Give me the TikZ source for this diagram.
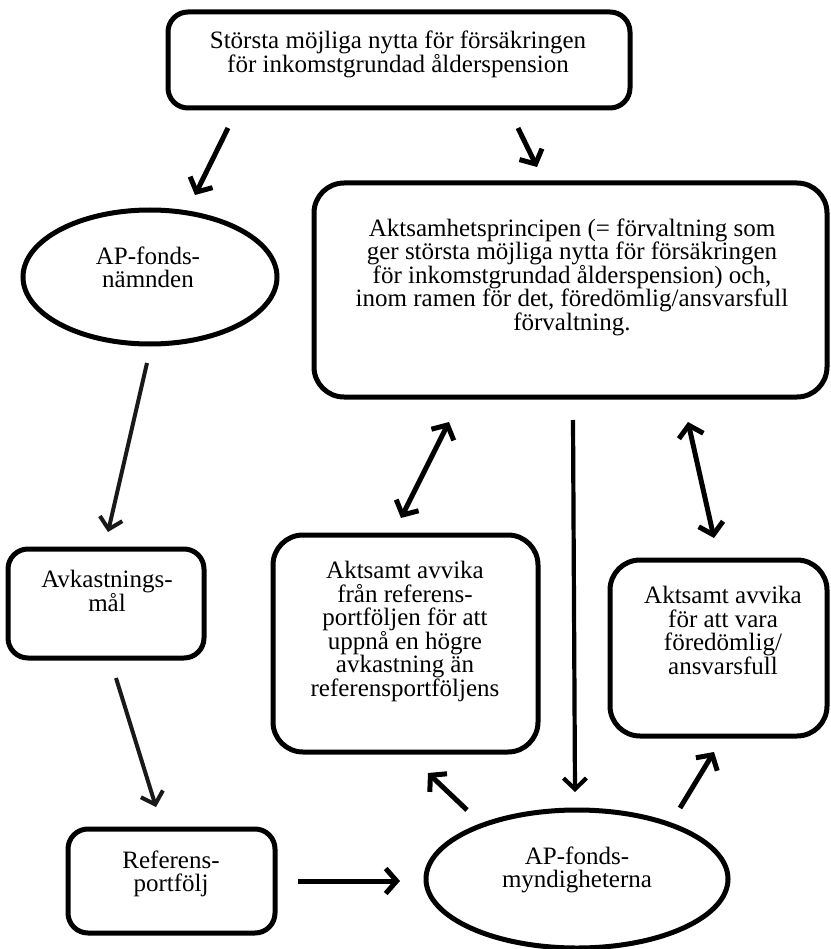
\documentclass[tikz,border=0pt]{standalone}
\usepackage{fontspec}
\setmainfont{Liberation Serif}
\usetikzlibrary{arrows.meta,shapes.geometric}
\begin{document}
\begin{tikzpicture}[x=1pt,y=-1pt,
  rbox/.style={draw=black, line width=5pt, rounded corners=20pt, inner sep=0pt, fill=white},
  ell/.style={draw=black, line width=5pt, ellipse, inner sep=0pt},
  txt/.style={align=center, inner sep=0pt, anchor=north, font=\fontsize{25}{23.5}\selectfont},
  arr/.style={line width=5pt, -{Straight Barb[length=11pt,width=25pt]}},
  thinarr/.style={line width=4pt, color=black!90, -{Straight Barb[length=11pt,width=23pt]}},
  darr/.style={line width=5pt, {Straight Barb[length=11pt,width=25pt]}-{Straight Barb[length=11pt,width=25pt]}}]
\path[use as bounding box, fill=white] (0,0) rectangle (830,949);

% shapes
\node[rbox, minimum width=462pt, minimum height=96pt] (top) at (399,60) {};
\node[txt] (topT) at (398,31.2) {Största möjliga nytta för försäkringen\\för inkomstgrundad ålderspension};

\node[rbox, rounded corners=30pt, minimum width=513pt, minimum height=214pt] (akt) at (570.5,290) {};
\node[txt] (aktT) at (572,218.2) {Aktsamhetsprincipen (= förvaltning som\\ger största möjliga nytta för försäkringen\\för inkomstgrundad ålderspension) och,\\inom ramen för det, föredömlig/ansvarsfull\\förvaltning.};

\node[ell, minimum width=254pt, minimum height=134pt] (nmd) at (150,277) {};
\node[txt] (nmdT) at (148,246.2) {AP-fonds-\\nämnden};

\node[rbox, minimum width=196pt, minimum height=109pt] (avk) at (106,603.5) {};
\node[txt] (avkT) at (107,570.2) {Avkastnings-\\mål};

\node[rbox, minimum width=207pt, minimum height=104pt] (ref) at (171.5,881) {};
\node[txt] (refT) at (171,850.2) {Referens-\\portfölj};

\node[rbox, rounded corners=30pt, minimum width=265pt, minimum height=217pt] (mid) at (405.5,643.5) {};
\node[txt] (midT) at (405,561.2) {Aktsamt avvika\\från referens-\\portföljen för att\\uppnå en högre\\avkastning än\\referensportföljens};

\node[rbox, rounded corners=30pt, minimum width=217pt, minimum height=176pt] (rgt) at (718.5,648) {};
\node[txt] (rgtT) at (723,586.2) {Aktsamt avvika\\för att vara\\föredömlig/\\ansvarsfull};

\node[ell, minimum width=302pt, minimum height=138pt] (myn) at (577,879) {};
\node[txt] (mynT) at (577,846.2) {AP-fonds-\\myndigheterna};

% connector end points
\coordinate (a1s) at (228,128); \coordinate (a1e) at (195,195);
\coordinate (a2s) at (518,128); \coordinate (a2e) at (537,167);
\coordinate (a3s) at (147,363); \coordinate (a3e) at (108,532);
\coordinate (a4s) at (116,678); \coordinate (a4e) at (156,807);
\coordinate (a5s) at (298,881); \coordinate (a5e) at (400,881);
\coordinate (a6s) at (573,420); \coordinate (a6e) at (575,792);
\coordinate (d1a) at (449,422); \coordinate (d1b) at (401,518);
\coordinate (d2a) at (688,422); \coordinate (d2b) at (714,538);
\coordinate (a7s) at (467,810); \coordinate (a7e) at (428,773);
\coordinate (a8s) at (680,808); \coordinate (a8e) at (714,752);

% connectors
\draw[arr] (a1s) -- (a1e);
\draw[arr] (a2s) -- (a2e);
\draw[thinarr] (a3s) -- (a3e);
\draw[thinarr] (a4s) -- (a4e);
\draw[arr] (a5s) -- (a5e);
\draw[line width=4.2pt, -{Straight Barb[length=11pt,width=23pt]}] (a6s) -- (a6e);
\draw[darr] (d1a) -- (d1b);
\draw[darr] (d2a) -- (d2b);
\draw[arr] (a7s) -- (a7e);
\draw[arr] (a8s) -- (a8e);
\end{tikzpicture}
\end{document}
